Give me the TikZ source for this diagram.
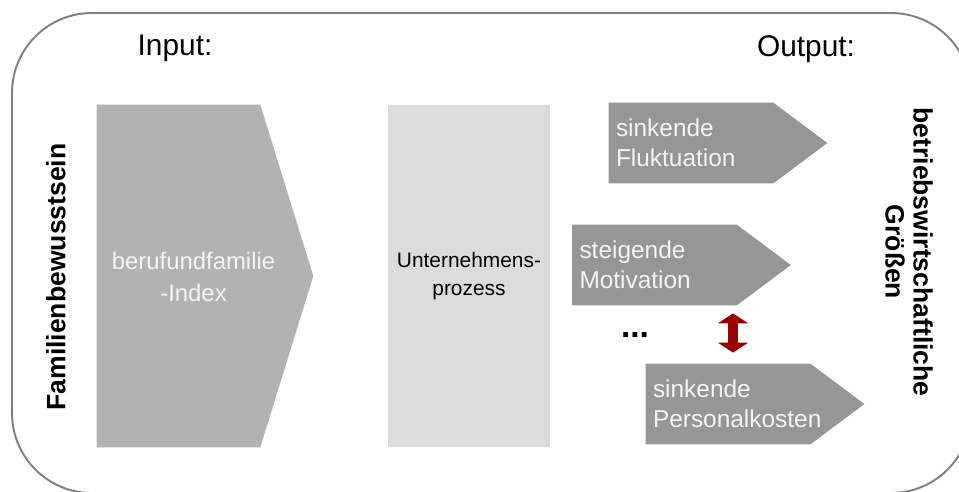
\documentclass[tikz,border=0pt]{standalone}
\usepackage{fontspec}
\setmainfont{Liberation Sans}
\usetikzlibrary{arrows.meta,backgrounds,calc,positioning}
\definecolor{framegray}{HTML}{808080}
\definecolor{indexgray}{HTML}{B2B2B2}
\definecolor{processgray}{HTML}{DCDCDC}
\definecolor{resultgray}{HTML}{969696}
\definecolor{paletext}{HTML}{F4F4F4}
\definecolor{linkred}{HTML}{990000}
\tikzset{
  frame/.style={
    draw=framegray,
    line width=1.1pt,
    rounded corners=1.6cm
  },
  headlabel/.style={
    font=\fontsize{17}{20}\selectfont,
    inner sep=0pt,
    anchor=base
  },
  sidelabel/.style={
    font=\fontsize{15.1}{15.9}\selectfont\bfseries,
    align=center,
    inner sep=0pt
  },
  indexbody/.style={
    minimum width=3.26cm,
    minimum height=6.84cm,
    inner sep=0pt
  },
  indextext/.style={
    text=paletext,
    align=center,
    font=\fontsize{13.6}{18.1}\selectfont
  },
  procbox/.style={
    fill=processgray,
    minimum width=3.24cm,
    minimum height=6.84cm,
    align=center,
    font=\fontsize{11.9}{15.9}\selectfont
  },
  outarrow/.style={
    text=paletext,
    minimum width=3.28cm,
    minimum height=1.6cm,
    inner xsep=0.14cm,
    text width=3.0cm,
    align=left,
    font=\fontsize{13.9}{17}\selectfont
  },
  dots/.style={
    font=\fontsize{19}{20}\selectfont\bfseries,
    anchor=base,
    inner sep=0pt
  },
  linkflow/.style={
    draw=linkred,
    line width=6.2pt,
    {Triangle[length=5.7pt,width=17pt]}-{Triangle[length=5.7pt,width=17pt]}
  }
}

\begin{document}
\begin{tikzpicture}[x=0.02cm,y=-0.02cm]

  \useasboundingbox (0,0) rectangle (959,491);

  % Outer frame, cut off at the right and bottom edges.
  \begin{scope}
    \clip (0,0) rectangle (959,491);
    \draw[frame] (12,13) rectangle (971,493);
  \end{scope}

  \node[headlabel] (inlabel) at (175,55) {Input:};
  \node[headlabel] (outlabel) at (806,56) {Output:};

  \node[sidelabel,rotate=90] (family) at (56,277) {Familienbewusstsein};
  \node[sidelabel,rotate=-90] (business) at (909,252)
    {betriebswirtschaftliche\\Größen};

  % Input arrow and process block.
  \node[indexbody] (index) at (178.5,276) {};
  \node[indextext] (indexlabel) at ($(index.center)+(15,1)$)
    {berufundfamilie\\-Index};

  \node[procbox] (process) at (469,276) {Unternehmens-\\prozess};

  % Output arrows.
  \node[outarrow] (fluct) at (691,143) {sinkende\\Fluktuation};
  \node[outarrow] (motiv) at (654.5,265) {steigende\\Motivation};
  \node[outarrow] (staff) at (728,404) {sinkende\\Personalkosten};

  \node[dots] (more) at (635,337) {...};

  % Arrow bodies go behind their texts.
  \begin{scope}[on background layer]
    \fill[indexgray] (index.north west) -- (index.north east)
      -- ($(index.east)+(53,0)$) -- (index.south east)
      -- (index.south west) -- cycle;
    \foreach \n in {fluct,motiv,staff}
      \fill[resultgray] (\n.north west) -- (\n.north east)
        -- ($(\n.east)+(54,0)$) -- (\n.south east)
        -- (\n.south west) -- cycle;
  \end{scope}

  \coordinate (linkx) at (733,0);
  \draw[linkflow,shorten <=0.16cm,shorten >=0.22cm]
    (motiv.south -| linkx) -- (staff.north -| linkx);

\end{tikzpicture}
\end{document}
